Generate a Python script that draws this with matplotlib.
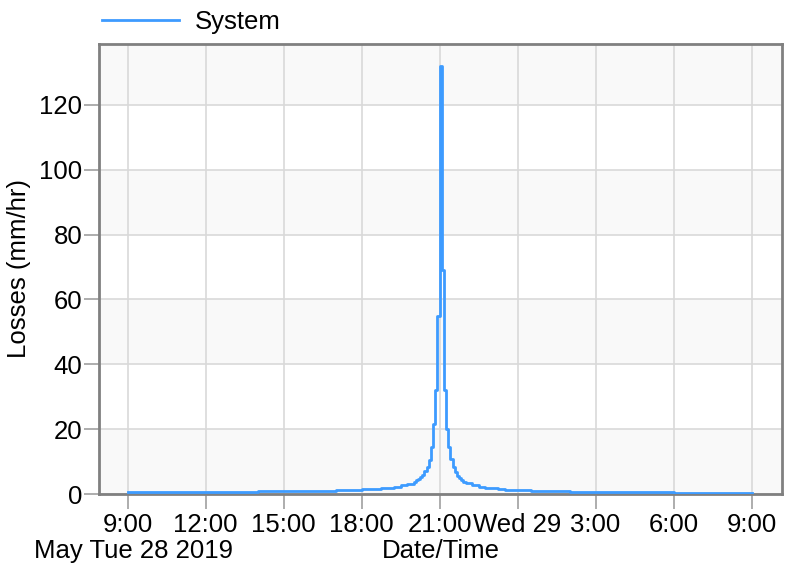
import matplotlib
matplotlib.use("Agg")
import matplotlib.pyplot as plt

# time in hours since Tue 28 May 2019 00:00
times = [9.0, 10.0, 11.0, 12.0, 13.0, 14.0, 15.0, 16.0, 16.5, 17.0, 17.5, 18.0, 18.25, 18.5, 18.75,
         19.0, 19.25, 19.5, 19.75,
         20.0, 20 + 5/60, 20 + 10/60, 20 + 15/60, 20 + 20/60, 20 + 25/60, 20 + 30/60,
         20 + 35/60, 20 + 40/60, 20 + 45/60, 20 + 50/60, 20 + 55/60,
         21.0, 21 + 5/60, 21 + 10/60, 21 + 15/60, 21 + 20/60, 21 + 25/60, 21 + 30/60,
         21 + 35/60, 21 + 40/60, 21 + 45/60, 21 + 50/60, 21 + 55/60,
         22.0, 22.25, 22.5, 22.75, 23.0, 23.25, 23.5, 24.0, 24.5, 25.0, 26.0, 27.0, 28.0, 30.0, 33.0]
losses = [0.55, 0.6, 0.63, 0.67, 0.72, 0.8, 0.88, 0.97, 1.03, 1.12, 1.25, 1.4, 1.5, 1.62, 1.8,
          2.0, 2.3, 2.7, 3.2,
          3.8, 4.2, 4.7, 5.3, 6.0, 7.0, 8.4,
          10.5, 14.5, 21.5, 32.0, 55.0,
          132.0, 69.0, 32.0, 20.0, 14.5, 10.8, 8.3,
          6.7, 5.6, 4.8, 4.2, 3.7,
          3.3, 2.7, 2.25, 1.95, 1.7, 1.5, 1.35, 1.1, 0.98, 0.88, 0.74, 0.63, 0.56, 0.46, 0.38]

tick_hours = [9, 12, 15, 18, 21, 24, 27, 30, 33]
tick_labels = ["9:00", "12:00", "15:00", "18:00", "21:00", "Wed 29", "3:00", "6:00", "9:00"]
y_ticks = [0, 20, 40, 60, 80, 100, 120]
series_name = "System"

plt.rcParams['font.family'] = ['Liberation Sans', 'DejaVu Sans']
FS = 18.5

fig = plt.figure(figsize=(7.87, 5.67), dpi=100)
ax = fig.add_axes([99/787, 1 - 494/567, (782 - 99)/787, (494 - 44)/567])

ymax = 138.8
ax.set_xlim(7.9, 34.17)
ax.set_ylim(0, ymax)

# alternating horizontal bands
bands = y_ticks + [ymax]
for i in range(len(bands) - 1):
    col = '#f9f9f9' if i % 2 == 0 else 'white'
    ax.axhspan(bands[i], bands[i + 1], color=col, zorder=0, lw=0)

ax.grid(True, color='#d9d9d9', lw=1.2, zorder=1)
ax.set_axisbelow(True)

line, = ax.step(times, losses, where='post', color='#3d9bff', lw=2.0, zorder=3,
                label=series_name)

ax.set_xticks(tick_hours)
ax.set_xticklabels(tick_labels)
ax.set_yticks(y_ticks)
ax.tick_params(axis='both', length=11, width=1.2, color='#a0a0a0', labelsize=FS,
               pad=1, labelcolor='black')
ax.tick_params(axis='x', pad=3)

for s in ax.spines.values():
    s.set_color('#808080')
    s.set_linewidth(2)

ax.set_ylabel("Losses (mm/hr)", fontsize=FS, labelpad=6)
ax.set_xlabel("Date/Time", fontsize=FS, va='center')
ax.xaxis.set_label_coords(0.5, -(551 - 494) / 450)

fig.text(134/787, 1 - 551/567, "May Tue 28 2019", fontsize=FS, ha='center', va='center')

ax.legend(handles=[line], loc='center left', bbox_to_anchor=(102/787, 1 - 22/567),
          bbox_transform=fig.transFigure, frameon=False, fontsize=FS,
          handlelength=3.0, handletextpad=0.6, borderpad=0, borderaxespad=0)

fig.savefig("out.png", dpi=100)
